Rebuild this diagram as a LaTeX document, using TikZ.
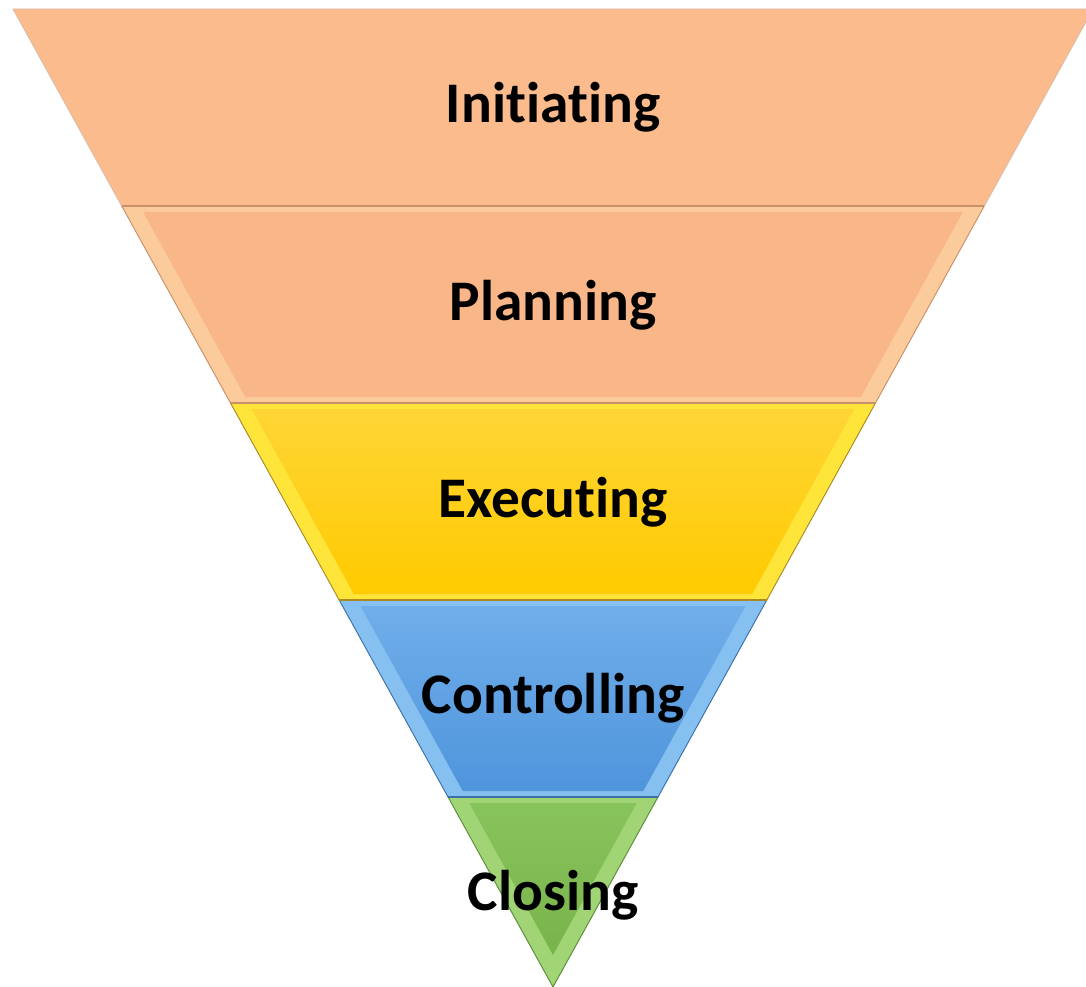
\documentclass[tikz,border=0pt]{standalone}
\usepackage{fontspec}
\setmainfont[Ligatures=NoCommon]{Carlito}
\definecolor{peachface}{HTML}{FBBB8D}
\definecolor{peachdeep}{HTML}{F9B789}
\definecolor{peachbevel}{HTML}{FBCB9C}
\definecolor{peachline}{HTML}{C8906A}
\definecolor{goldtop}{HTML}{FFD536}
\definecolor{goldbot}{HTML}{FFCA00}
\definecolor{goldbevel}{HTML}{FFE43A}
\definecolor{goldline}{HTML}{A88A20}
\definecolor{bluetop}{HTML}{70AEEA}
\definecolor{bluebot}{HTML}{4F95DC}
\definecolor{bluebevel}{HTML}{86C0F0}
\definecolor{blueline}{HTML}{3A70A8}
\definecolor{greentop}{HTML}{88C45C}
\definecolor{greenbot}{HTML}{78B44A}
\definecolor{greenbevel}{HTML}{A0D474}
\definecolor{greenline}{HTML}{5A8C38}
\tikzset{
  band/.style={line width=0.8pt, line join=round},
  phase/.style={font=\fontsize{49}{50}\selectfont\bfseries, anchor=base, inner sep=0pt}
}
\begin{document}
\begin{tikzpicture}[x=0.03cm, y=-0.03cm]
\useasboundingbox (0,0) rectangle (1086,987);
% Initiating
\draw[band, draw=peachline!60, fill=peachface] (13,9) -- (1093,9) -- (984.3,206) -- (121.7,206) -- cycle;
% Planning
\draw[band, draw=peachline, fill=peachbevel] (121.7,206) -- (984.3,206) -- (875.5,403) -- (230.5,403) -- cycle;
\fill[peachdeep] (143.1,212) -- (962.9,212) -- (860.8,397) -- (245.2,397) -- cycle;
\draw[peachline, line width=1.2pt] (121.7,206) -- (984.3,206);
% Executing
\draw[band, draw=goldline, fill=goldbevel] (230.5,403) -- (875.5,403) -- (766.8,600) -- (339.2,600) -- cycle;
\shade[top color=goldtop, bottom color=goldbot] (251.8,409) -- (854.2,409) -- (752.1,594) -- (353.9,594) -- cycle;
\draw[peachline, line width=1.2pt] (230.5,403) -- (875.5,403);
% Controlling
\draw[band, draw=blueline, fill=bluebevel] (339.2,600) -- (766.8,600) -- (658,797) -- (448,797) -- cycle;
\shade[top color=bluetop, bottom color=bluebot] (360.5,606) -- (745.5,606) -- (643.3,791) -- (462.7,791) -- cycle;
\draw[goldline, line width=1.2pt] (339.2,600) -- (766.8,600);
% Closing
\draw[band, draw=greenline, fill=greenbevel] (448,797) -- (658,797) -- (553,987) -- cycle;
\shade[top color=greentop, bottom color=greenbot] (469.3,803) -- (636.7,803) -- (553,955) -- cycle;
\draw[blueline, line width=1.2pt] (448,797) -- (658,797);
% labels
\node[phase] (init) at (553,123) {Initiating};
\node[phase] (plan) at (553,320) {Planning};
\node[phase] (exec) at (553,517) {Executing};
\node[phase] (ctrl) at (553,713) {Controlling};
\node[phase] (close) at (553,910) {Closing};
\end{tikzpicture}
\end{document}
